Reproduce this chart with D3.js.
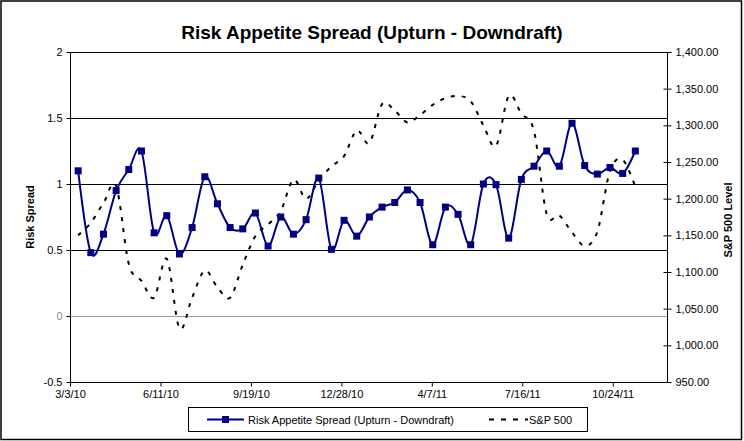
<!DOCTYPE html>
<html>
<head>
<meta charset="utf-8">
<script src="https://cdn.jsdelivr.net/npm/d3@7"></script>
<style>
  html, body { margin: 0; padding: 0; background: #fff; }
  svg { display: block; font-family: "Liberation Sans", Arial, sans-serif; }
</style>
</head>
<body>
<svg id="chart" width="744" height="441"></svg>
<script>
// ---- data ----
const dates = [
  "2010-03-12","2010-03-26","2010-04-09","2010-04-23","2010-05-07","2010-05-21","2010-06-04","2010-06-18",
  "2010-07-02","2010-07-16","2010-07-30","2010-08-13","2010-08-27","2010-09-10","2010-09-24","2010-10-08",
  "2010-10-22","2010-11-05","2010-11-19","2010-12-03","2010-12-17","2010-12-31","2011-01-14","2011-01-28",
  "2011-02-11","2011-02-25","2011-03-11","2011-03-25","2011-04-08","2011-04-22","2011-05-06","2011-05-20",
  "2011-06-03","2011-06-17","2011-07-01","2011-07-15","2011-07-29","2011-08-12","2011-08-26","2011-09-09",
  "2011-09-23","2011-10-07","2011-10-21","2011-11-04","2011-11-18"
];
const riskSpread = [
  1.10, 0.48, 0.62, 0.95, 1.11, 1.25, 0.63, 0.76, 0.47, 0.67, 1.055, 0.85, 0.67, 0.66, 0.78,
  0.53, 0.75, 0.62, 0.73, 1.045, 0.505, 0.725, 0.605, 0.75, 0.825, 0.86, 0.955, 0.86, 0.54, 0.825,
  0.77, 0.54, 1.0, 0.995, 0.59, 1.035, 1.135, 1.25, 1.135, 1.46, 1.14, 1.075, 1.125, 1.08, 1.25
];
const sp500 = [
  1150, 1167, 1194, 1217, 1111, 1088, 1065, 1118, 1023, 1065, 1102, 1079, 1065, 1110, 1149,
  1165, 1183, 1226, 1200, 1225, 1244, 1258, 1293, 1276, 1329, 1320, 1304, 1314, 1328, 1337,
  1340, 1333, 1300, 1272, 1340, 1316, 1292, 1179, 1177, 1154, 1136, 1155, 1238, 1253, 1216
];
const xTickDates = ["2010-03-03","2010-06-11","2010-09-19","2010-12-28","2011-04-07","2011-07-16","2011-10-24"];
const xTickLabels = ["3/3/10","6/11/10","9/19/10","12/28/10","4/7/11","7/16/11","10/24/11"];
const xDomain = ["2010-03-03","2011-12-23"];
const leftTicks = [-0.5, 0, 0.5, 1, 1.5, 2];
const leftTickLabels = ["-0.5","0","0.5","1","1.5","2"];
const rightTicks = [950, 1000, 1050, 1100, 1150, 1200, 1250, 1300, 1350, 1400];

const title = "Risk Appetite Spread (Upturn - Downdraft)";
const leftTitle = "Risk Spread";
const rightTitle = "S&P 500 Level";
const seriesNames = ["Risk Appetite Spread (Upturn - Downdraft)", "S&P 500"];

// ---- layout ----
const L = 70, R = 667, T = 52, B = 382;
const parse = d3.utcParse("%Y-%m-%d");
const svg = d3.select("#chart");

const x = d3.scaleUtc().domain(xDomain.map(parse)).range([L, R]);
const y = d3.scaleLinear().domain([-0.5, 2]).range([B, T]);
const y2 = d3.scaleLinear().domain([950, 1400]).range([B, T]);

// chart frame
svg.append("rect").attr("x", 1).attr("y", 1).attr("width", 740.5).attr("height", 438.5)
  .attr("fill", "#fff").attr("stroke", "#000").attr("stroke-width", 1.5);

// title
svg.append("text").attr("x", 372).attr("y", 39).attr("text-anchor", "middle")
  .attr("font-size", 19).attr("font-weight", "bold").text(title);

// gridlines
svg.append("g").selectAll("line").data(leftTicks.filter(d => d > -0.5)).join("line")
  .attr("x1", L).attr("x2", R).attr("y1", d => Math.round(y(d)) + 0.5).attr("y2", d => Math.round(y(d)) + 0.5)
  .attr("stroke", d => d === 0 ? "#999" : "#000").attr("stroke-width", 1);

// left axis
const gl = svg.append("g").attr("transform", `translate(${L + 0.5},0)`)
  .call(d3.axisLeft(y).tickValues(leftTicks).tickSize(4).tickPadding(4)
    .tickFormat((d, i) => leftTickLabels[i]));
gl.select(".domain").attr("d", `M0,${T}V${B}`);
gl.selectAll("text").attr("font-size", 11).attr("font-family", "Liberation Sans, Arial, sans-serif")
  .attr("fill", d => d === 0 ? "#888" : "#000");

// right axis
const gr = svg.append("g").attr("transform", `translate(${R + 0.5},0)`)
  .call(d3.axisRight(y2).tickValues(rightTicks).tickSize(4).tickPadding(4).tickFormat(d3.format(",.2f")));
gr.select(".domain").attr("d", `M0,${T}V${B}`);
gr.selectAll(".tick line").attr("x1", -4);
gr.selectAll("text").attr("font-size", 11).attr("font-family", "Liberation Sans, Arial, sans-serif").attr("fill", "#000");

// bottom axis
const gb = svg.append("g").attr("transform", `translate(0,${B + 0.5})`)
  .call(d3.axisBottom(x).tickValues(xTickDates.map(parse)).tickSize(4).tickPadding(4)
    .tickFormat((d, i) => xTickLabels[i]));
gb.select(".domain").attr("d", `M${L},0H${R}`);
gb.selectAll("text").attr("font-size", 11).attr("font-family", "Liberation Sans, Arial, sans-serif").attr("fill", "#000");

// axis titles
svg.append("text").attr("transform", `translate(34,${(T + B) / 2}) rotate(-90)`)
  .attr("text-anchor", "middle").attr("font-size", 11).attr("font-weight", "bold").text(leftTitle);
svg.append("text").attr("transform", `translate(732,${(T + B) / 2 + 3}) rotate(-90)`)
  .attr("text-anchor", "middle").attr("font-size", 11).attr("font-weight", "bold").text(rightTitle);

// series
const navy = "#000080";
const pts = dates.map((d, i) => ({ date: parse(d), risk: riskSpread[i], sp: sp500[i] }));

svg.append("path").datum(pts)
  .attr("d", d3.line().x(d => x(d.date)).y(d => y2(d.sp)).curve(d3.curveCardinal.tension(0)))
  .attr("fill", "none").attr("stroke", "#000").attr("stroke-width", 2).attr("stroke-dasharray", "4,7");

svg.append("path").datum(pts)
  .attr("d", d3.line().x(d => x(d.date)).y(d => y(d.risk)).curve(d3.curveCardinal.tension(0)))
  .attr("fill", "none").attr("stroke", navy).attr("stroke-width", 2);

svg.append("g").selectAll("rect").data(pts).join("rect")
  .attr("x", d => x(d.date) - 3.5).attr("y", d => y(d.risk) - 3.5)
  .attr("width", 7).attr("height", 7).attr("fill", navy);

// legend
const lg = svg.append("g");
lg.append("rect").attr("x", 188.5).attr("y", 407.5).attr("width", 399).attr("height", 24)
  .attr("fill", "#fff").attr("stroke", "#000").attr("stroke-width", 1);
lg.append("line").attr("x1", 207).attr("x2", 244).attr("y1", 419.5).attr("y2", 419.5)
  .attr("stroke", navy).attr("stroke-width", 2);
lg.append("rect").attr("x", 222).attr("y", 416).attr("width", 7).attr("height", 7).attr("fill", navy);
lg.append("text").attr("x", 248).attr("y", 423.5).attr("font-size", 11).text(seriesNames[0]);
lg.append("line").attr("x1", 489).attr("x2", 528).attr("y1", 419.5).attr("y2", 419.5)
  .attr("stroke", "#000").attr("stroke-width", 2).attr("stroke-dasharray", "5,7");
lg.append("text").attr("x", 529).attr("y", 423.5).attr("font-size", 11).text(seriesNames[1]);
</script>
</body>
</html>
